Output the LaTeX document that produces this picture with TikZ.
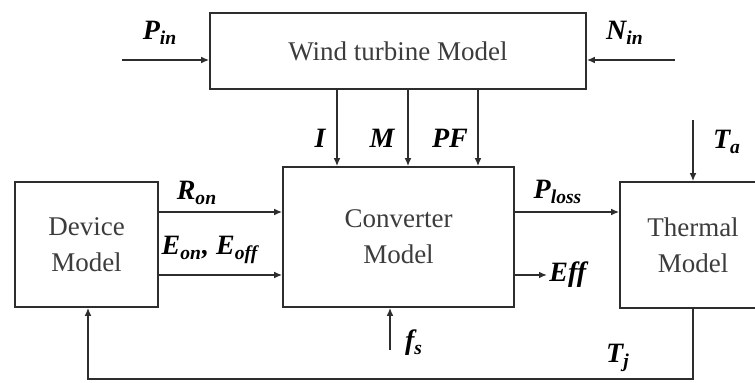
\documentclass[tikz,border=0pt]{standalone}
\usepackage{fontspec}
\setmainfont{Liberation Serif}
\usepackage{tikz}
\usepackage{xcolor}
\usetikzlibrary{arrows.meta,calc,positioning}
\definecolor{lineink}{RGB}{45,45,45}
\definecolor{textink}{RGB}{60,60,60}

\begin{document}
\begin{tikzpicture}[
  x=0.5pt, y=-0.5pt,
  every node/.style={font=\fontsize{13.5}{16}\selectfont, text=textink},
  block/.style={draw=lineink, line width=0.8pt, align=center, inner sep=0pt},
  sig/.style={-{Latex[length=4pt,width=3.4pt]}, draw=lineink, line width=0.8pt},
  sym/.style={font=\fontsize{14}{16}\selectfont\bfseries\itshape, text=black, inner sep=1pt},
]

% ===== Frame: pixel grid 755 x 383 =====
\useasboundingbox (0,0) rectangle (755,383);
\clip (0,0) rectangle (755,383);

%% ---- BLOCKS ----
\node[block, minimum width=188pt, minimum height=38pt] (wind) at (398,51)
  {Wind turbine Model};
\node[block, minimum width=115.5pt, minimum height=70pt] (conv) at (398.5,237)
  {Converter\\[2pt]Model};
\node[block, minimum width=71.5pt, minimum height=62.5pt] (dev) at (86.5,244.5)
  {Device\\[2pt]Model};
\node[block, minimum width=73pt, minimum height=63pt] (therm) at (693,245)
  {Thermal\\[2pt]Model};

%% ---- INPUTS OF THE TURBINE ----
\coordinate (pin) at (122,60);
\coordinate (nin) at (675,60);
\draw[sig] (pin) -- (pin -| wind.west);
\draw[sig] (nin) -- (nin -| wind.east);
\node[sym] (pinlbl) at (160,33) {P\textsubscript{in}};
\node[sym] (ninlbl) at (625,33) {N\textsubscript{in}};

%% ---- TURBINE -> CONVERTER ----
\coordinate (xi) at (337,0);
\coordinate (xm) at (408,0);
\coordinate (xpf) at (478,0);
\draw[sig] (wind.south -| xi) -- (conv.north -| xi);
\draw[sig] (wind.south -| xm) -- (conv.north -| xm);
\draw[sig] (wind.south -| xpf) -- (conv.north -| xpf);
\node[sym] (ilbl) at (320,138) {I};
\node[sym] (mlbl) at (382,138) {M};
\node[sym] (pflbl) at (450,138) {PF};

%% ---- DEVICE -> CONVERTER ----
\coordinate (yron) at (0,212);
\coordinate (yeon) at (0,275);
\draw[sig] (dev.east |- yron) -- (conv.west |- yron);
\draw[sig] (dev.east |- yeon) -- (conv.west |- yeon);
\node[sym] (ronlbl) at (197,193) {R\textsubscript{on}};
\node[sym] (eonlbl) at (210,250) {E\textsubscript{on}, E\textsubscript{off}};

%% ---- CONVERTER OUTPUTS ----
\coordinate (effend) at (547,275);
\draw[sig] (conv.east |- yron) -- (therm.west |- yron);
\draw[sig] (conv.east |- effend) -- (effend);
\node[sym] (plosslbl) at (558,192) {P\textsubscript{loss}};
\node[sym, anchor=west] (efflbl) at (effend) {Eff};

%% ---- SWITCHING FREQUENCY ----
\coordinate (fs) at (390,350);
\draw[sig] (fs) -- (fs |- conv.south);
\node[sym] (fslbl) at (414,343) {f\textsubscript{s}};

%% ---- AMBIENT TEMPERATURE ----
\coordinate (ta) at (693,120);
\draw[sig] (ta) -- (therm.north);
\node[sym] (talbl) at (727,142) {T\textsubscript{a}};

%% ---- JUNCTION TEMPERATURE FEEDBACK ----
\coordinate (bot) at (88,379);
\draw[sig] (therm.south) |- (bot) -- (bot |- dev.south);
\node[sym] (tjlbl) at (618,358) {T\textsubscript{j}};

\end{tikzpicture}
\end{document}
